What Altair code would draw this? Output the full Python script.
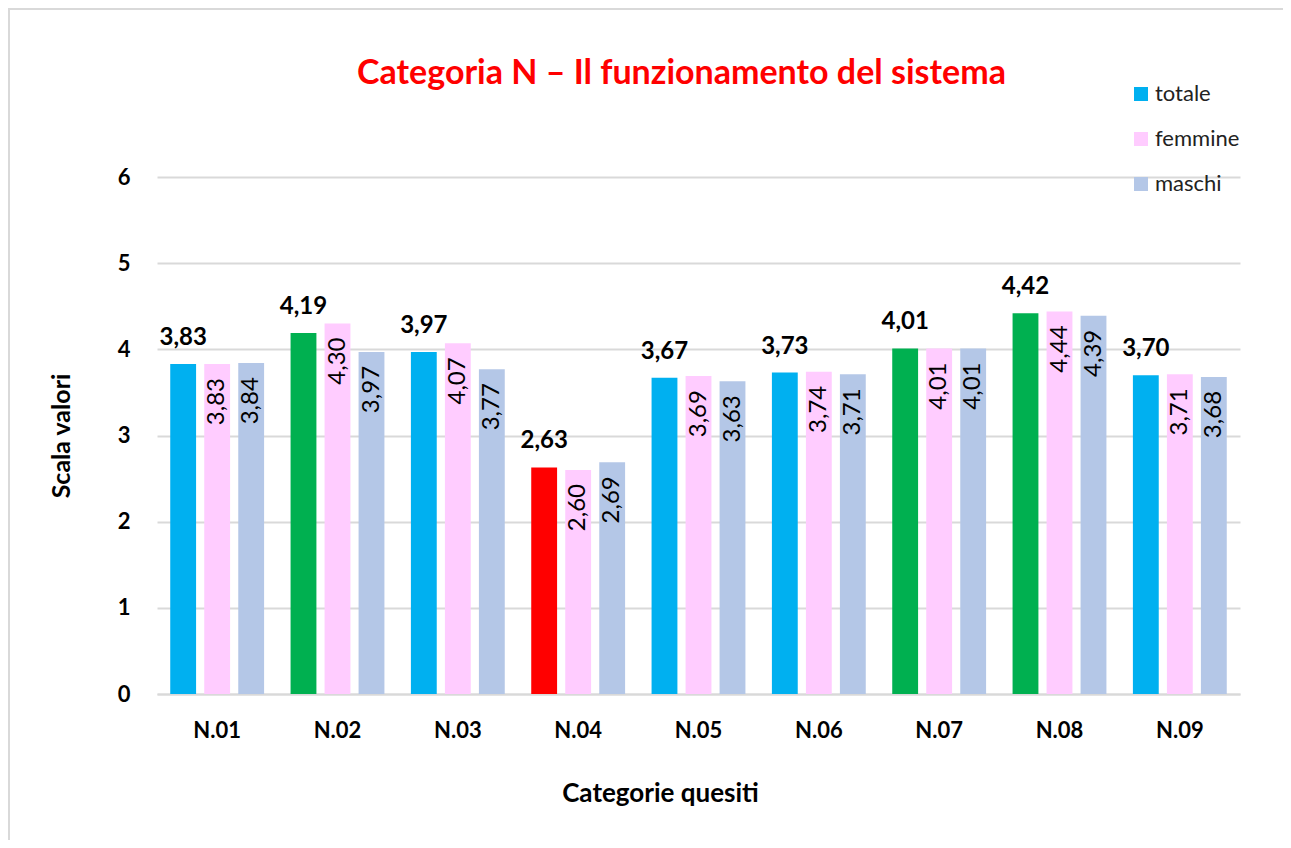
import altair as alt
import pandas as pd

categorie = ["N.01", "N.02", "N.03", "N.04", "N.05", "N.06", "N.07", "N.08", "N.09"]
serie = ["totale", "femmine", "maschi"]
totale = [3.83, 4.19, 3.97, 2.63, 3.67, 3.73, 4.01, 4.42, 3.70]
femmine = [3.83, 4.30, 4.07, 2.60, 3.69, 3.74, 4.01, 4.44, 3.71]
maschi = [3.84, 3.97, 3.77, 2.69, 3.63, 3.71, 4.01, 4.39, 3.68]
y_ticks = [0, 1, 2, 3, 4, 5, 6]

rows = []
for s, vals in zip(serie, [totale, femmine, maschi]):
    for c, v in zip(categorie, vals):
        rows.append({"categoria": c, "serie": s, "valore": v})
df = pd.DataFrame(rows)

FONT = "Lato"
W, H = 1083, 517

base = alt.Chart(df).transform_calculate(
    etichetta="replace(format(datum.valore, '.2f'), '.', ',')"
).encode(
    x=alt.X("categoria:N", sort=categorie,
            scale=alt.Scale(paddingInner=0.22, paddingOuter=0.11),
            axis=alt.Axis(title="Categorie quesiti", labelAngle=0, ticks=False,
                          domain=True, domainColor="#d9d9d9", domainWidth=2,
                          labelPadding=26, labelFontSize=22, labelFontWeight="bold",
                          labelColor="black", titleFontSize=26, titleFontWeight="bold",
                          titleColor="black", titlePadding=39, titleX=503,
                          titleAlign="center", grid=False)),
    xOffset=alt.XOffset("serie:N", sort=serie, scale=alt.Scale(paddingInner=0.24)),
    y=alt.Y("valore:Q", scale=alt.Scale(domain=[0, 6]),
            axis=alt.Axis(title="Scala valori", values=y_ticks, ticks=False, domain=False,
                          gridColor="#d9d9d9", gridWidth=2,
                          labelPadding=27, labelFontSize=22, labelFontWeight="bold",
                          labelColor="black", titleFontSize=25, titleFontWeight="bold",
                          titleColor="black", titlePadding=43)),
)

bars = base.mark_bar().encode(
    color=alt.Color(
        "serie:N",
        sort=serie,
        scale=alt.Scale(domain=serie, range=["#00B0F0", "#FFCCFF", "#B4C7E7"]),
        legend=alt.Legend(title=None, orient="none", legendX=973, legendY=-94,
                          symbolType="square", symbolSize=196, symbolStrokeWidth=0,
                          labelFontSize=22, labelColor="#222222", labelOffset=3,
                          rowPadding=23),
        condition=[
            {"test": "datum.serie === 'totale' && datum.valore >= 4", "value": "#00B050"},
            {"test": "datum.serie === 'totale' && datum.valore < 3", "value": "#FF0000"},
        ],
    )
)

label_tot = base.transform_filter("datum.serie === 'totale'").mark_text(
    baseline="alphabetic", dy=-19, fontSize=24, fontWeight="bold", color="black"
).encode(text="etichetta:N")

label_rot = base.transform_filter("datum.serie !== 'totale'").mark_text(
    angle=270, align="right", baseline="middle", dx=-14, fontSize=24, color="black"
).encode(text="etichetta:N")

border = alt.Chart(pd.DataFrame({"a": [0]})).mark_rect(
    fill="transparent", stroke="#d9d9d9", strokeWidth=2
).encode(x=alt.value(-148), x2=alt.value(W + 200), y=alt.value(-168), y2=alt.value(H + 300))

chart = alt.layer(border, bars, label_tot, label_rot).properties(
    width=W, height=H,
    autosize=alt.AutoSizeParams(type="none"),
    padding={"left": 149, "top": 169, "right": 43, "bottom": 146},
    title=alt.Title("Categoria N – Il funzionamento del sistema", fontSize=34,
                    fontWeight="bold", color="#FF0000", anchor="middle", dx=-17,
                    offset=-83, font=FONT),
).configure(font=FONT).configure_view(stroke=None)

chart.save("out.html", embed_options={"renderer": "svg", "actions": False})
